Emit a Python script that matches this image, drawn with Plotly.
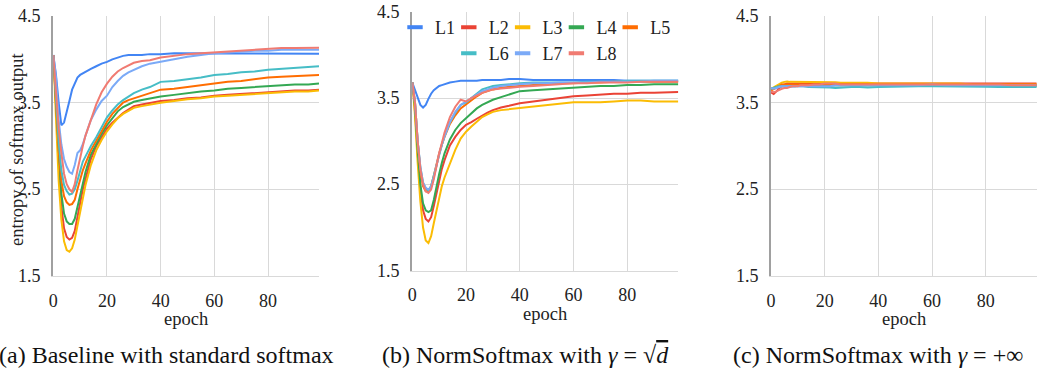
import plotly.graph_objects as go

# ---------------- data ----------------
epochs = [0, 1, 2, 3, 4, 5, 6, 7, 8, 9, 10, 11, 12, 14, 16, 18, 20, 22, 24, 26, 28, 30,
          33, 36, 40, 45, 50, 55, 60, 65, 70, 75, 80, 85, 90, 95, 99]
series_names = ["L1", "L2", "L3", "L4", "L5", "L6", "L7", "L8"]
colors = ["#4285F4", "#EA4335", "#FBBC04", "#34A853", "#FF6D01", "#46BDC6", "#7BAAF7", "#F07B72"]

# (a) Baseline with standard softmax
a_L1 = [4.05,3.82,3.50,3.24,3.27,3.38,3.52,3.65,3.73,3.79,3.82,3.84,3.85,3.89,3.92,3.95,3.97,4.00,4.02,4.04,4.05,4.05,4.05,4.06,4.06,4.07,4.07,4.07,4.07,4.07,4.07,4.07,4.07,4.065,4.065,4.065,4.065]
a_L2 = [4.05,3.45,2.75,2.30,2.05,1.95,1.92,1.94,2.02,2.18,2.35,2.50,2.62,2.85,3.00,3.10,3.20,3.27,3.33,3.38,3.42,3.46,3.48,3.50,3.52,3.53,3.55,3.56,3.58,3.59,3.60,3.61,3.62,3.63,3.64,3.64,3.65]
a_L3 = [4.05,3.40,2.60,2.15,1.90,1.80,1.78,1.82,1.92,2.08,2.25,2.42,2.55,2.78,2.95,3.07,3.17,3.25,3.32,3.37,3.41,3.44,3.46,3.48,3.50,3.52,3.54,3.55,3.57,3.58,3.59,3.60,3.61,3.62,3.63,3.63,3.64]
a_L4 = [4.05,3.50,2.85,2.45,2.22,2.13,2.10,2.10,2.16,2.30,2.45,2.58,2.70,2.90,3.03,3.14,3.24,3.32,3.40,3.45,3.48,3.51,3.53,3.55,3.57,3.59,3.61,3.63,3.64,3.66,3.67,3.68,3.69,3.70,3.71,3.71,3.72]
a_L5 = [4.05,3.55,2.95,2.60,2.42,2.35,2.32,2.33,2.38,2.50,2.62,2.72,2.80,2.95,3.06,3.17,3.28,3.37,3.44,3.50,3.53,3.55,3.58,3.61,3.65,3.66,3.68,3.70,3.72,3.74,3.75,3.77,3.79,3.80,3.81,3.82,3.82]
a_L6 = [4.05,3.58,3.05,2.72,2.55,2.48,2.44,2.45,2.50,2.60,2.72,2.82,2.88,3.00,3.10,3.21,3.33,3.41,3.48,3.53,3.57,3.61,3.65,3.68,3.74,3.75,3.77,3.79,3.82,3.83,3.85,3.86,3.88,3.89,3.90,3.91,3.92]
a_L7 = [4.05,3.80,3.30,3.02,2.85,2.76,2.70,2.68,2.78,2.92,2.95,3.02,3.12,3.30,3.42,3.52,3.58,3.68,3.75,3.81,3.85,3.88,3.92,3.95,3.97,4.00,4.03,4.05,4.07,4.08,4.09,4.10,4.10,4.11,4.11,4.11,4.11]
a_L8 = [4.05,3.65,3.20,2.92,2.68,2.56,2.50,2.47,2.56,2.72,2.88,3.00,3.12,3.30,3.48,3.62,3.72,3.80,3.86,3.90,3.93,3.96,3.98,3.99,4.02,4.04,4.06,4.07,4.08,4.09,4.10,4.11,4.12,4.13,4.13,4.135,4.135]

# (b) NormSoftmax with gamma = sqrt(d)
b_L1 = [3.68,3.60,3.50,3.42,3.39,3.42,3.49,3.55,3.59,3.62,3.64,3.65,3.66,3.68,3.69,3.70,3.70,3.70,3.70,3.71,3.71,3.71,3.71,3.72,3.72,3.71,3.71,3.71,3.71,3.71,3.71,3.71,3.70,3.70,3.70,3.70,3.70]
b_L2 = [3.68,3.35,2.85,2.45,2.20,2.10,2.07,2.12,2.25,2.40,2.55,2.68,2.78,2.95,3.05,3.13,3.19,3.22,3.26,3.30,3.33,3.36,3.39,3.41,3.44,3.46,3.48,3.50,3.52,3.53,3.54,3.55,3.55,3.56,3.56,3.57,3.57]
b_L3 = [3.68,3.30,2.75,2.30,2.00,1.85,1.82,1.90,2.05,2.20,2.35,2.48,2.58,2.74,2.90,3.03,3.11,3.17,3.23,3.28,3.31,3.34,3.36,3.37,3.38,3.40,3.42,3.43,3.45,3.45,3.45,3.46,3.47,3.47,3.46,3.46,3.46]
b_L4 = [3.68,3.40,2.90,2.50,2.28,2.20,2.18,2.20,2.32,2.48,2.62,2.75,2.86,3.02,3.13,3.21,3.27,3.33,3.38,3.42,3.45,3.48,3.51,3.54,3.58,3.59,3.60,3.61,3.62,3.63,3.64,3.64,3.65,3.65,3.66,3.66,3.66]
b_L5 = [3.68,3.45,3.00,2.65,2.48,2.42,2.42,2.48,2.60,2.74,2.86,2.96,3.05,3.20,3.30,3.38,3.43,3.48,3.52,3.56,3.58,3.60,3.62,3.63,3.64,3.65,3.66,3.67,3.67,3.68,3.68,3.69,3.69,3.69,3.69,3.69,3.69]
b_L6 = [3.68,3.45,3.00,2.70,2.52,2.45,2.43,2.48,2.60,2.73,2.85,2.96,3.06,3.22,3.33,3.42,3.45,3.50,3.56,3.60,3.62,3.64,3.65,3.66,3.67,3.68,3.68,3.68,3.68,3.69,3.69,3.69,3.70,3.70,3.70,3.70,3.70]
b_L7 = [3.68,3.45,3.00,2.70,2.52,2.46,2.44,2.47,2.58,2.72,2.85,2.96,3.06,3.22,3.34,3.42,3.46,3.50,3.54,3.58,3.60,3.62,3.64,3.65,3.66,3.67,3.67,3.68,3.68,3.68,3.69,3.69,3.69,3.69,3.70,3.70,3.70]
b_L8 = [3.68,3.45,3.00,2.68,2.50,2.42,2.40,2.44,2.56,2.72,2.86,2.98,3.10,3.28,3.40,3.48,3.46,3.50,3.53,3.56,3.58,3.60,3.61,3.62,3.63,3.64,3.65,3.66,3.67,3.67,3.68,3.68,3.68,3.69,3.69,3.69,3.69]

# (c) NormSoftmax with gamma = +inf
c_L1 = [3.65,3.66,3.67,3.68,3.69,3.69,3.69,3.69,3.69,3.69,3.70,3.70,3.70,3.70,3.70,3.70,3.70,3.70,3.70,3.70,3.70,3.70,3.70,3.70,3.70,3.70,3.70,3.70,3.71,3.70,3.70,3.70,3.70,3.70,3.70,3.70,3.70]
c_L2 = [3.62,3.60,3.63,3.67,3.70,3.71,3.72,3.72,3.72,3.72,3.72,3.72,3.72,3.72,3.72,3.72,3.72,3.72,3.72,3.72,3.72,3.72,3.72,3.72,3.72,3.72,3.72,3.72,3.72,3.72,3.72,3.72,3.72,3.72,3.72,3.72,3.72]
c_L3 = [3.66,3.68,3.70,3.72,3.73,3.74,3.745,3.74,3.74,3.74,3.74,3.74,3.74,3.74,3.74,3.74,3.74,3.74,3.735,3.73,3.73,3.73,3.73,3.73,3.72,3.72,3.72,3.72,3.72,3.72,3.72,3.71,3.71,3.71,3.71,3.71,3.71]
c_L4 = [3.66,3.67,3.68,3.69,3.69,3.70,3.70,3.70,3.70,3.70,3.70,3.70,3.70,3.70,3.70,3.70,3.70,3.70,3.70,3.70,3.70,3.70,3.70,3.70,3.70,3.70,3.70,3.70,3.70,3.70,3.70,3.70,3.70,3.69,3.69,3.69,3.69]
c_L5 = [3.64,3.66,3.68,3.70,3.71,3.71,3.71,3.71,3.71,3.71,3.71,3.71,3.71,3.71,3.71,3.71,3.71,3.71,3.71,3.71,3.71,3.71,3.71,3.71,3.71,3.71,3.71,3.71,3.71,3.71,3.71,3.71,3.71,3.71,3.71,3.71,3.71]
c_L6 = [3.66,3.67,3.68,3.69,3.69,3.69,3.69,3.69,3.69,3.69,3.69,3.69,3.69,3.68,3.68,3.68,3.68,3.675,3.67,3.675,3.68,3.68,3.68,3.675,3.68,3.685,3.69,3.69,3.69,3.69,3.69,3.685,3.685,3.68,3.68,3.68,3.68]
c_L7 = [3.67,3.66,3.67,3.68,3.69,3.69,3.69,3.69,3.69,3.69,3.69,3.69,3.69,3.69,3.69,3.69,3.69,3.69,3.70,3.70,3.70,3.70,3.70,3.70,3.70,3.70,3.70,3.70,3.71,3.70,3.70,3.70,3.70,3.70,3.70,3.70,3.70]
c_L8 = [3.63,3.62,3.63,3.65,3.66,3.67,3.67,3.68,3.69,3.69,3.69,3.70,3.70,3.70,3.71,3.71,3.72,3.72,3.72,3.71,3.71,3.71,3.71,3.71,3.71,3.71,3.71,3.71,3.71,3.71,3.71,3.71,3.71,3.71,3.70,3.70,3.70]

y_ticks = [1.5, 2.5, 3.5, 4.5]
y_ticktext = ["1.5", "2.5", "3.5", "4.5"]
x_ticks = [0, 20, 40, 60, 80]
x_ticktext = ["0", "20", "40", "60", "80"]
captions = ["(a) Baseline with standard softmax",
            "(b) NormSoftmax with <i>γ</i> = √<span style='text-decoration:overline'><i>d</i></span>",
            "(c) NormSoftmax with <i>γ</i> = +∞"]
y_title = "entropy of softmax output"
x_title = "epoch"

panels = [
    [a_L1, a_L2, a_L3, a_L4, a_L5, a_L6, a_L7, a_L8],
    [b_L1, b_L2, b_L3, b_L4, b_L5, b_L6, b_L7, b_L8],
    [c_L1, c_L2, c_L3, c_L4, c_L5, c_L6, c_L7, c_L8],
]

# ---------------- layout geometry (pixels) ----------------
W, H = 1043, 368
FONT = "'Liberation Serif', 'Times New Roman', Tinos, Times, 'DejaVu Serif', serif"
TXT = "#222222"
boxes = [(53.3, 319.0, 16.0, 276.0), (412.3, 678.3, 11.7, 270.7), (771.0, 1036.7, 16.0, 276.0)]
caption_x = [166, 525, 878]
caption_y = 355
epoch_y = [319, 314, 319]
# legend slots in panel (b): (row, column) of each series
legend_slots = [(0, 0), (0, 1), (0, 2), (0, 3), (0, 4), (1, 1), (1, 2), (1, 3)]
legend_x0, legend_dx = 395, 53.8
legend_rows_top = [9, 35]


def fx(p):
    return p / W


def fy(p):
    return 1 - p / H


fig = go.Figure()

for i, series in enumerate(panels):
    xa = "x" if i == 0 else f"x{i+1}"
    ya = "y" if i == 0 else f"y{i+1}"
    for name, vals, col in zip(series_names, series, colors):
        fig.add_trace(go.Scatter(x=epochs, y=vals, mode="lines", name=name,
                                 line=dict(color=col, width=2), showlegend=False,
                                 xaxis=xa, yaxis=ya, hoverinfo="skip"))

# legend-only entries (short thick dash symbols), shown in panel (b)
for k, (name, col) in enumerate(zip(series_names, colors)):
    lname = "legend" if k == 0 else f"legend{k+1}"
    fig.add_trace(go.Scatter(x=[None], y=[None], mode="markers", name=name,
                             marker=dict(symbol="line-ew", size=11, color=col,
                                         line=dict(width=4, color=col)),
                             legend=lname, xaxis="x2", yaxis="y2", showlegend=True))

layout = dict(
    width=W, height=H, margin=dict(l=0, r=0, t=0, b=0, autoexpand=False),
    paper_bgcolor="white", plot_bgcolor="white",
    font=dict(family=FONT, size=18, color=TXT),
    annotations=[],
)

for i, (x0, x1, y0, y1) in enumerate(boxes):
    sx = "" if i == 0 else str(i + 1)
    layout["xaxis" + sx] = dict(
        domain=[fx(x0), fx(x1)], range=[0, 99], anchor="y" + sx,
        tickmode="array", tickvals=x_ticks, ticktext=x_ticktext,
        showgrid=True, gridcolor="#d9d9d9", gridwidth=1,
        showline=True, linecolor="#d9d9d9", linewidth=1,
        zeroline=False, ticks="", ticklabelstandoff=8, automargin=False,
        tickfont=dict(family=FONT, size=18, color=TXT),
    )
    layout["yaxis" + sx] = dict(
        domain=[fy(y1), fy(y0)], range=[1.5, 4.5], anchor="x" + sx,
        tickmode="array", tickvals=y_ticks, ticktext=y_ticktext,
        showticklabels=False,
        showgrid=True, gridcolor="#d9d9d9", gridwidth=1,
        showline=True, linecolor="#a0a0a0", linewidth=2,
        zeroline=False, ticks="", automargin=False,
    )
    # y tick labels placed on the library's y scale, right-aligned 10px left of the axis
    for tv, tt in zip(y_ticks, y_ticktext):
        layout["annotations"].append(dict(
            text=tt, x=fx(x0 - 10), xref="paper", y=tv, yref="y" + sx,
            xanchor="right", yanchor="middle", showarrow=False,
            font=dict(family=FONT, size=18, color=TXT)))
    layout["annotations"].append(dict(
        text=x_title, x=fx((x0 + x1) / 2), y=fy(epoch_y[i]), xref="paper", yref="paper",
        xanchor="center", yanchor="middle", showarrow=False,
        font=dict(family=FONT, size=18.5, color=TXT)))
    layout["annotations"].append(dict(
        text=captions[i], x=fx(caption_x[i]), y=fy(caption_y), xref="paper", yref="paper",
        xanchor="center", yanchor="middle", showarrow=False,
        font=dict(family=FONT, size=24, color="#111111")))

layout["annotations"].append(dict(
    text=y_title, x=fx(17), y=fy(149), xref="paper", yref="paper", textangle=-90,
    xanchor="center", yanchor="middle", showarrow=False,
    font=dict(family=FONT, size=18.5, color=TXT)))

for k, (row, colnum) in enumerate(legend_slots):
    lname = "legend" if k == 0 else f"legend{k+1}"
    layout[lname] = dict(orientation="h", x=fx(legend_x0 + legend_dx * colnum),
                         y=fy(legend_rows_top[row]), xanchor="left", yanchor="top",
                         bgcolor="rgba(0,0,0,0)", borderwidth=0, itemwidth=30,
                         font=dict(family=FONT, size=18, color=TXT))

fig.update_layout(**layout)
fig.write_html("out.html", config={"displayModeBar": False},
               post_script="document.body.style.margin='0';document.body.style.padding='0';"
                           "document.documentElement.style.overflow='hidden';")
